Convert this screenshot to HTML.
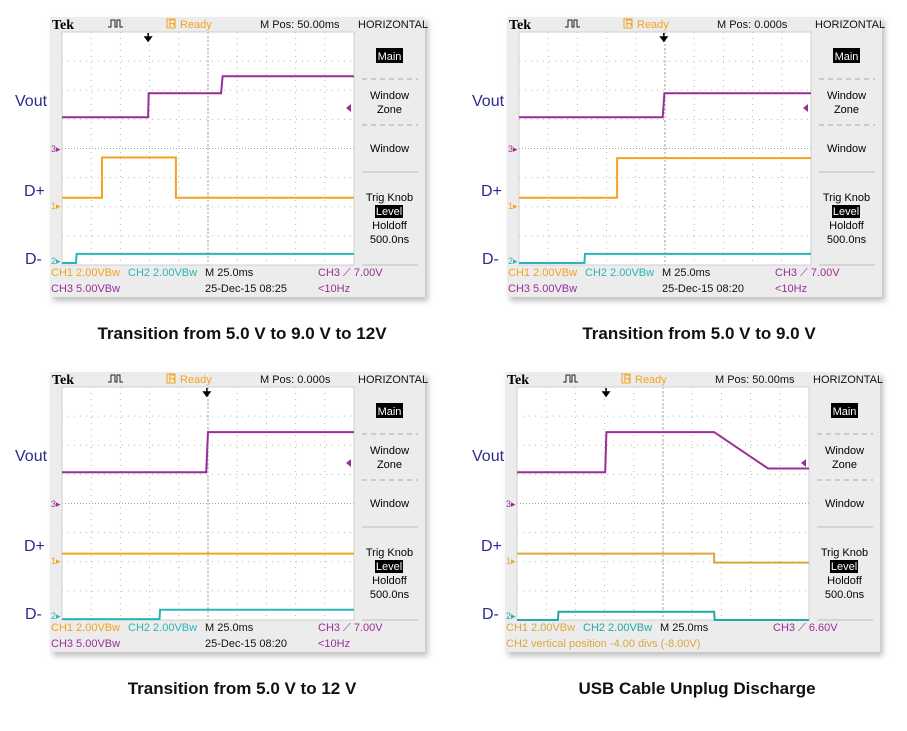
<!DOCTYPE html>
<html><head><meta charset="utf-8">
<style>
html,body{margin:0;padding:0;background:#fff;}
svg{display:block;font-family:"Liberation Sans",sans-serif;}
.sc{font-size:11px;}
</style></head>
<body>
<svg id="chart" width="907" height="731" viewBox="0 0 907 731" xmlns="http://www.w3.org/2000/svg">
<defs>
<filter id="sh" x="-5%" y="-5%" width="115%" height="115%"><feDropShadow dx="3" dy="4" stdDeviation="3" flood-color="#000" flood-opacity="0.25"/></filter>
</defs>
</svg>
<script>
// Data in screen divisions: time 0..10 (x), level 0..8 from top (y)
const tlVoutT=[0,2.95,2.97,5.45,5.5,10], tlVoutV=[2.93,2.93,2.10,2.10,1.52,1.52];
const tlDpT=[0,1.37,1.37,3.9,3.9,10], tlDpV=[5.69,5.69,4.31,4.31,5.69,5.69];
const tlDmT=[0,0.48,0.5,10], tlDmV=[7.93,7.93,7.62,7.62];

const trVoutT=[0,4.92,4.98,10], trVoutV=[2.93,2.93,2.10,2.10];
const trDpT=[0,3.36,3.36,10], trDpV=[5.69,5.69,4.33,4.33];
const trDmT=[0,2.24,2.26,10], trDmV=[7.93,7.93,7.62,7.62];

const blVoutT=[0,4.94,5.0,10], blVoutV=[2.93,2.93,1.55,1.55];
const blDpT=[0,10], blDpV=[5.72,5.72];
const blDmT=[0,3.34,3.36,10], blDmV=[7.97,7.97,7.65,7.65];

const brVoutT=[0,3.02,3.06,6.75,8.6,10], brVoutV=[2.93,2.93,1.55,1.55,2.8,2.8];
const brDpT=[0,6.75,6.75,10], brDpV=[5.72,5.72,6.03,6.03];
const brDmT=[0,1.4,1.42,6.75,6.77,10], brDmV=[8.0,8.0,7.72,7.72,8.0,8.0];

const captions=["Transition from 5.0 V to 9.0 V to 12V","Transition from 5.0 V to 9.0 V","Transition from 5.0 V to 12 V","USB Cable Unplug Discharge"];
const mpos=["M Pos: 50.00ms","M Pos: 0.000s","M Pos: 0.000s","M Pos: 50.00ms"];
const dates=["25-Dec-15 08:25","25-Dec-15 08:20","25-Dec-15 08:20",""];
const trigV=["7.00V","7.00V","7.00V","6.60V"];
const trigT=[2.95,4.96,4.96,3.05];

const NS="http://www.w3.org/2000/svg";
const svg=document.getElementById('chart');
function mk(tag,attrs,parent,text){const e=document.createElementNS(NS,tag);for(const k in attrs)e.setAttribute(k,attrs[k]);if(text!==undefined)e.textContent=text;parent.appendChild(e);return e;}
const X0=62,DX=29.2,Y0=32,DY=29.125;
function xs(t){return X0+t*DX;}
function ys(v){return Y0+v*DY;}
function trace(g,T,V,color,name){
  let d='';for(let i=0;i<T.length;i++){d+=(i?'L':'M')+xs(T[i]).toFixed(1)+' '+ys(V[i]).toFixed(1);}
  const p=mk('path',{d:d,fill:'none',stroke:color,'stroke-width':2},g);
  
  
}
const panels=[
 {ox:0,oy:0,v:[tlVoutT,tlVoutV],p:[tlDpT,tlDpV],m:[tlDmT,tlDmV]},
 {ox:457,oy:0,v:[trVoutT,trVoutV],p:[trDpT,trDpV],m:[trDmT,trDmV]},
 {ox:0,oy:355,v:[blVoutT,blVoutV],p:[blDpT,blDpV],m:[blDmT,blDmV]},
 {ox:455,oy:355,v:[brVoutT,brVoutV],p:[brDpT,brDpV],m:[brDmT,brDmV]}
];
const PUR='#9a2e98',ORA='#f5a21e',CYA='#2bb5b5';
panels.forEach((P,i)=>{
  const g=mk('g',{transform:`translate(${P.ox},${P.oy})`},svg);
  
  
  const br=(i===3);
  const dpc=br?'#dba83a':ORA, dmc=br?'#25a8a8':CYA;
  mk('rect',{x:50,y:17,width:375,height:280,fill:'#ececec',filter:'url(#sh)'},g);
  mk('rect',{x:X0,y:Y0,width:292,height:233,fill:'#fff'},g);
  const grid=mk('g',{stroke:'#b8b8b8','stroke-width':1,'stroke-dasharray':'1 5'},g);
  
  
  for(let k=1;k<10;k++)mk('line',{x1:xs(k),y1:Y0,x2:xs(k),y2:Y0+233},grid);
  for(let k=1;k<8;k++)mk('line',{x1:X0,y1:ys(k),x2:X0+292,y2:ys(k)},grid);
  mk('line',{x1:xs(5),y1:Y0,x2:xs(5),y2:Y0+233,stroke:'#a0a0a0','stroke-dasharray':'2 2'},g);
  mk('line',{x1:X0,y1:ys(4),x2:X0+292,y2:ys(4),stroke:'#a0a0a0','stroke-dasharray':'1 2'},g);
  mk('rect',{x:X0,y:Y0,width:292,height:233,fill:'none',stroke:'#cfcfcf'},g);
  mk('text',{x:52,y:29,'font-family':'Liberation Serif, serif','font-weight':'bold','font-size':14},g,'Tek');
  mk('path',{d:'M108 27h3v-7h4v7h2v-7h3v7h3',fill:'none',stroke:'#222','stroke-width':1},g);
  mk('rect',{x:167,y:19,width:8,height:9,fill:'none',stroke:ORA},g);
  mk('text',{x:168.5,y:27,class:'sc','font-size':8,fill:ORA},g,'R');
  mk('text',{x:180,y:28,class:'sc',fill:ORA},g,'Ready');
  mk('text',{x:260,y:28,class:'sc',fill:'#111'},g,mpos[i]);
  mk('text',{x:358,y:28,class:'sc',fill:'#111'},g,'HORIZONTAL');
  const ax=xs(trigT[i]);
  mk('path',{d:`M${ax} 33v5M${ax-3} 37l3 4 3-4z`,stroke:'#000',fill:'#000','stroke-width':1.5},g);
  mk('rect',{x:376,y:48,width:27,height:15,fill:'#000'},g);
  mk('text',{x:389.5,y:60,class:'sc',fill:'#fff','text-anchor':'middle'},g,'Main');
  mk('line',{x1:362,y1:79,x2:418,y2:79,stroke:'#aaa','stroke-dasharray':'5 4'},g);
  mk('text',{x:389.5,y:99,class:'sc','text-anchor':'middle'},g,'Window');
  mk('text',{x:389.5,y:113,class:'sc','text-anchor':'middle'},g,'Zone');
  mk('line',{x1:362,y1:125,x2:418,y2:125,stroke:'#aaa','stroke-dasharray':'5 4'},g);
  mk('text',{x:389.5,y:152,class:'sc','text-anchor':'middle'},g,'Window');
  mk('line',{x1:362,y1:172,x2:418,y2:172,stroke:'#bbb'},g);
  mk('text',{x:389.5,y:201,class:'sc','text-anchor':'middle'},g,'Trig Knob');
  mk('rect',{x:375,y:205,width:28,height:13,fill:'#000'},g);
  mk('text',{x:389,y:215,class:'sc',fill:'#fff','text-anchor':'middle'},g,'Level');
  mk('text',{x:389.5,y:229,class:'sc','text-anchor':'middle'},g,'Holdoff');
  mk('text',{x:389.5,y:243,class:'sc','text-anchor':'middle'},g,'500.0ns');
  mk('line',{x1:362,y1:265,x2:418,y2:265,stroke:'#bbb'},g);
  mk('text',{x:51,y:152,'font-size':9,fill:PUR},g,'3▸');
  mk('text',{x:51,y:209,'font-size':9,fill:dpc},g,'1▸');
  mk('text',{x:51,y:264,'font-size':9,fill:dmc},g,'2▸');
  mk('path',{d:`M346 108l5-4v8z`,fill:PUR},g);
  trace(g,P.v[0],P.v[1],PUR,'vout-trace');
  trace(g,P.p[0],P.p[1],dpc,'dplus-trace');
  trace(g,P.m[0],P.m[1],dmc,'dminus-trace');
  mk('text',{x:51,y:276,class:'sc',fill:dpc},g,'CH1  2.00VBw');
  mk('text',{x:128,y:276,class:'sc',fill:dmc},g,'CH2  2.00VBw');
  mk('text',{x:205,y:276,class:'sc',fill:'#111'},g,'M 25.0ms');
  mk('text',{x:318,y:276,class:'sc',fill:PUR},g,'CH3 ⟋ '+trigV[i]);
  if(br){
    mk('text',{x:51,y:292,class:'sc',fill:dpc},g,'CH2 vertical position -4.00 divs (-8.00V)');
  }else{
    mk('text',{x:51,y:292,class:'sc',fill:PUR},g,'CH3  5.00VBw');
    mk('text',{x:205,y:292,class:'sc',fill:'#111'},g,dates[i]);
    mk('text',{x:318,y:292,class:'sc',fill:PUR},g,'<10Hz');
  }
  const lx=i%2?472-P.ox:15;
  mk('text',{x:lx,y:106,'font-size':16,fill:'#2b2b8c'},g,'Vout');
  mk('text',{x:lx+9,y:196,'font-size':16,fill:'#2b2b8c'},g,'D+');
  mk('text',{x:lx+10,y:264,'font-size':16,fill:'#2b2b8c'},g,'D-');
  const c=mk('text',{x:242,y:339,'font-size':17,'font-weight':'bold','text-anchor':'middle',fill:'#111'},g,captions[i]);
  
  
});
</script>
</body></html>
